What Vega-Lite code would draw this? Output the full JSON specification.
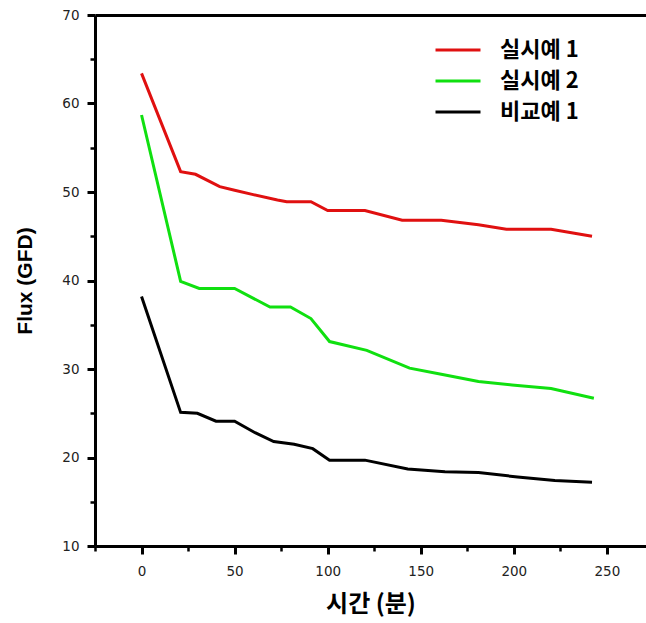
{
  "$schema": "https://vega.github.io/schema/vega-lite/v6.json",
  "width": 551,
  "height": 531,
  "autosize": {"type": "none"},
  "padding": {"left": 95, "top": 15, "right": 0, "bottom": 77},
  "background": "white",
  "config": {
    "view": {"stroke": null},
    "axis": {"grid": false, "domainColor": "black", "domainWidth": 3, "tickColor": "black", "labelFont": "DejaVu Sans", "labelFontSize": 13.5, "labelColor": "#222222"}
  },
  "data": {"values": [
    {"s": "실시예 1", "t": 0, "f": 63.4},
    {"s": "실시예 1", "t": 21, "f": 52.3},
    {"s": "실시예 1", "t": 29, "f": 52.0},
    {"s": "실시예 1", "t": 42, "f": 50.6},
    {"s": "실시예 1", "t": 50, "f": 50.2},
    {"s": "실시예 1", "t": 60, "f": 49.7},
    {"s": "실시예 1", "t": 73, "f": 49.1},
    {"s": "실시예 1", "t": 78, "f": 48.9},
    {"s": "실시예 1", "t": 91, "f": 48.9},
    {"s": "실시예 1", "t": 100, "f": 47.9},
    {"s": "실시예 1", "t": 120, "f": 47.9},
    {"s": "실시예 1", "t": 140, "f": 46.8},
    {"s": "실시예 1", "t": 161, "f": 46.8},
    {"s": "실시예 1", "t": 181, "f": 46.3},
    {"s": "실시예 1", "t": 196, "f": 45.8},
    {"s": "실시예 1", "t": 220, "f": 45.8},
    {"s": "실시예 1", "t": 242, "f": 45.0},
    {"s": "실시예 2", "t": 0, "f": 58.7},
    {"s": "실시예 2", "t": 21, "f": 39.9},
    {"s": "실시예 2", "t": 31, "f": 39.1},
    {"s": "실시예 2", "t": 50, "f": 39.1},
    {"s": "실시예 2", "t": 69, "f": 37.0},
    {"s": "실시예 2", "t": 80, "f": 37.0},
    {"s": "실시예 2", "t": 91, "f": 35.7},
    {"s": "실시예 2", "t": 101, "f": 33.1},
    {"s": "실시예 2", "t": 121, "f": 32.1},
    {"s": "실시예 2", "t": 144, "f": 30.1},
    {"s": "실시예 2", "t": 161, "f": 29.4},
    {"s": "실시예 2", "t": 181, "f": 28.6},
    {"s": "실시예 2", "t": 199, "f": 28.2},
    {"s": "실시예 2", "t": 220, "f": 27.8},
    {"s": "실시예 2", "t": 243, "f": 26.7},
    {"s": "비교예 1", "t": 0, "f": 38.2},
    {"s": "비교예 1", "t": 21, "f": 25.1},
    {"s": "비교예 1", "t": 30, "f": 25.0},
    {"s": "비교예 1", "t": 40, "f": 24.1},
    {"s": "비교예 1", "t": 50, "f": 24.1},
    {"s": "비교예 1", "t": 61, "f": 22.8},
    {"s": "비교예 1", "t": 71, "f": 21.8},
    {"s": "비교예 1", "t": 82, "f": 21.5},
    {"s": "비교예 1", "t": 92, "f": 21.0},
    {"s": "비교예 1", "t": 101, "f": 19.7},
    {"s": "비교예 1", "t": 120, "f": 19.7},
    {"s": "비교예 1", "t": 143, "f": 18.7},
    {"s": "비교예 1", "t": 163, "f": 18.4},
    {"s": "비교예 1", "t": 181, "f": 18.3},
    {"s": "비교예 1", "t": 202, "f": 17.8},
    {"s": "비교예 1", "t": 222, "f": 17.4},
    {"s": "비교예 1", "t": 242, "f": 17.2}
  ]},
  "layer": [
    {
      "mark": {"type": "line", "strokeWidth": 3, "opacity": 0},
      "encoding": {
        "x": {"field": "t", "type": "quantitative", "scale": {"domain": [-25, 271], "nice": false, "zero": false},
              "axis": {"orient": "bottom", "values": [-25, 25, 75, 125, 175, 225], "labels": false, "tickSize": 5, "tickWidth": 2.5, "domain": false, "title": null}},
        "y": {"field": "f", "type": "quantitative", "scale": {"domain": [10, 70], "nice": false, "zero": false},
              "axis": {"orient": "left", "values": [15, 25, 35, 45, 55, 65], "labels": false, "tickSize": 5, "tickWidth": 2.5, "domain": false, "title": null}},
        "detail": {"field": "s"}
      }
    },
    {
      "mark": {"type": "line", "strokeWidth": 3, "opacity": 0},
      "encoding": {
        "x": {"field": "t", "type": "quantitative",
              "axis": {"orient": "top", "ticks": false, "labels": false, "domain": true, "title": null}},
        "y": {"field": "f", "type": "quantitative", "axis": null},
        "detail": {"field": "s"}
      }
    },
    {
      "mark": {"type": "line", "strokeWidth": 3},
      "encoding": {
        "x": {"field": "t", "type": "quantitative",
              "axis": {"orient": "bottom", "values": [0, 50, 100, 150, 200, 250], "tickSize": 8, "tickWidth": 3, "labelPadding": 10,
                       "title": "시간 (분)", "titleFont": "Noto Sans CJK KR", "titleFontSize": 24, "titleFontWeight": "bold", "titleColor": "black", "titlePadding": 15}},
        "y": {"field": "f", "type": "quantitative",
              "axis": {"orient": "left", "values": [10, 20, 30, 40, 50, 60, 70], "tickSize": 8, "tickWidth": 3, "labelPadding": 8,
                       "title": "Flux (GFD)", "titleFont": "Liberation Sans", "titleFontSize": 21, "titleFontWeight": "bold", "titleColor": "black", "titlePadding": 26}},
        "color": {"field": "s", "type": "nominal",
                  "scale": {"domain": ["실시예 1", "실시예 2", "비교예 1"], "range": ["#e01010", "#10e010", "#000000"]},
                  "legend": {"orient": "none", "legendX": 350, "legendY": 22, "title": null, "symbolType": "M-2,0H2", "symbolSize": 506, "symbolStrokeWidth": 3,
                             "labelFont": "Noto Sans CJK KR", "labelFontSize": 22, "labelFontWeight": "bold", "labelColor": "black", "labelOffset": 29, "rowPadding": 7}}
      }
    }
  ],
  "resolve": {"axis": {"x": "independent", "y": "independent"}}
}
